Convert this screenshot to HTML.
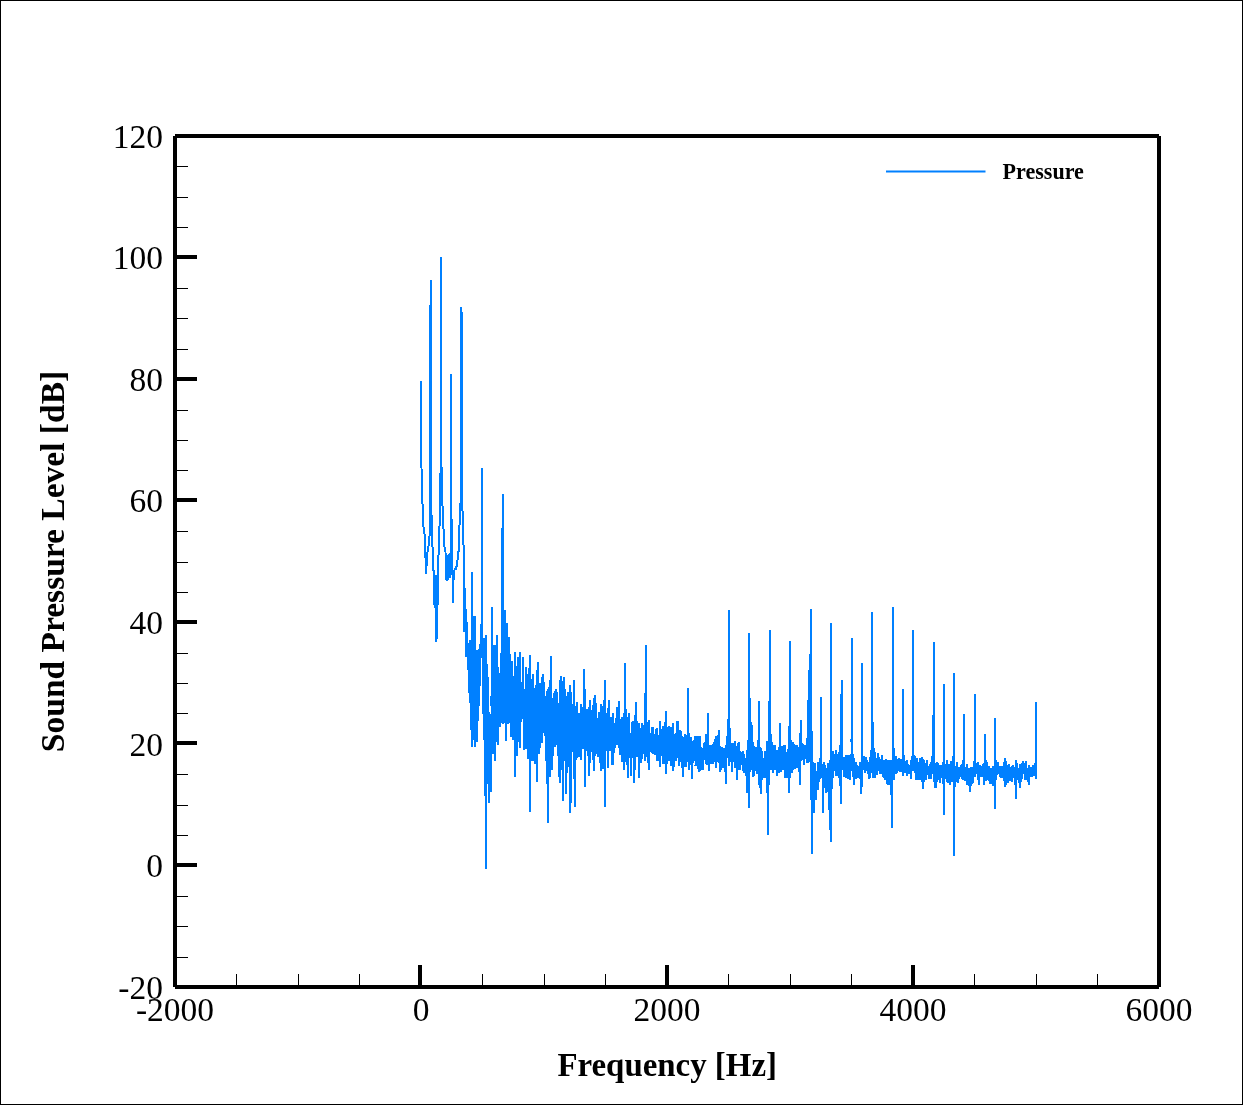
<!DOCTYPE html>
<html><head><meta charset="utf-8"><title>Sound Pressure Level</title>
<style>html,body{margin:0;padding:0;background:#fff;overflow:hidden}body{width:1243px;height:1105px;position:relative}</style>
</head><body>
<svg width="1243" height="1105" viewBox="0 0 1243 1105" style="position:absolute;left:0;top:0">
<rect x="0" y="0" width="1243" height="1105" fill="#fff"/>
<polygon points="520.0,685.4 521.0,693.3 522.0,690.0 523.0,685.6 524.0,703.4 525.0,704.3 526.0,695.8 527.0,700.1 528.0,700.2 529.0,699.2 530.0,706.7 531.0,701.6 532.0,705.1 533.0,702.6 534.0,701.5 535.0,700.3 536.0,699.6 537.0,701.7 538.0,695.0 539.0,694.6 540.0,694.6 541.0,694.9 542.0,695.1 543.0,695.7 544.0,697.6 545.0,701.9 546.0,709.6 547.0,717.0 548.0,725.0 549.0,715.1 550.0,712.5 551.0,706.8 552.0,711.7 553.0,710.8 554.0,709.9 555.0,709.1 556.0,708.3 557.0,707.4 558.0,706.6 559.0,710.8 560.0,706.8 561.0,706.2 562.0,707.2 563.0,707.7 564.0,708.3 565.0,713.2 566.0,718.1 567.0,718.7 568.0,716.6 569.0,714.5 570.0,712.8 571.0,712.0 572.0,711.1 573.0,710.1 574.0,709.1 575.0,719.7 576.0,716.7 577.0,719.9 578.0,720.8 579.0,720.7 580.0,721.5 581.0,722.3 582.0,721.0 583.0,719.2 584.0,709.1 585.0,726.5 586.0,722.5 587.0,725.4 588.0,725.6 589.0,722.9 590.0,720.4 591.0,719.4 592.0,718.4 593.0,717.3 594.0,718.7 595.0,715.8 596.0,718.3 597.0,721.1 598.0,724.5 599.0,728.1 600.0,727.3 601.0,726.4 602.0,725.4 603.0,724.1 604.0,722.8 605.0,722.3 606.0,722.4 607.0,722.3 608.0,722.2 609.0,723.1 610.0,724.9 611.0,726.7 612.0,728.5 613.0,729.8 614.0,726.7 615.0,723.5 616.0,720.3 617.0,717.9 618.0,717.4 619.0,718.4 620.0,722.8 621.0,727.6 622.0,730.5 623.0,728.1 624.0,725.3 625.0,698.1 626.0,723.4 627.0,725.1 628.0,727.6 629.0,731.1 630.0,734.7 631.0,737.5 632.0,738.9 633.0,737.2 634.0,735.1 635.0,733.2 636.0,729.2 637.0,731.6 638.0,736.9 639.0,740.3 640.0,736.7 641.0,736.1 642.0,735.7 643.0,734.2 644.0,732.2 645.0,730.2 646.0,707.7 647.0,733.2 648.0,735.1 649.0,736.2 650.0,736.0 651.0,735.8 652.0,735.7 653.0,736.0 654.0,736.4 655.0,736.9 656.0,737.7 657.0,737.9 658.0,737.2 659.0,736.7 660.0,736.2 661.0,737.0 662.0,737.7 663.0,738.5 664.0,738.6 665.0,738.4 666.0,737.3 667.0,738.7 668.0,738.0 669.0,737.5 670.0,737.8 671.0,738.1 672.0,738.2 673.0,738.4 674.0,737.3 675.0,735.6 676.0,734.6 677.0,734.8 678.0,736.1 679.0,738.3 680.0,740.4 681.0,742.4 682.0,743.5 683.0,745.5 684.0,744.5 685.0,745.0 686.0,743.4 687.0,742.2 688.0,714.8 689.0,744.4 690.0,747.4 691.0,749.9 692.0,747.8 693.0,746.7 694.0,746.4 695.0,746.1 696.0,746.2 697.0,746.7 698.0,747.2 699.0,747.7 700.0,747.8 701.0,748.5 702.0,749.7 703.0,750.8 704.0,751.5 705.0,748.0 706.0,744.0 707.0,743.0 708.0,734.7 709.0,747.4 710.0,750.5 711.0,752.3 712.0,750.8 713.0,749.6 714.0,749.0 715.0,748.4 716.0,747.3 717.0,745.8 718.0,744.4 719.0,744.4 720.0,748.1 721.0,751.2 722.0,754.1 723.0,754.0 724.0,754.5 725.0,755.1 726.0,753.9 727.0,746.1 728.0,738.4 729.0,679.8 730.0,740.2 731.0,748.0 732.0,752.7 733.0,751.7 734.0,750.6 735.0,750.0 736.0,750.2 737.0,751.4 738.0,750.8 739.0,750.9 740.0,752.3 741.0,754.2 742.0,756.1 743.0,758.0 744.0,758.3 745.0,760.6 746.0,763.0 747.0,764.2 748.0,761.1 749.0,700.9 750.0,723.0 751.0,732.4 752.0,745.1 753.0,753.1 754.0,754.2 755.0,754.4 756.0,754.5 757.0,754.5 758.0,754.3 759.0,735.7 760.0,758.6 761.0,763.1 762.0,760.5 763.0,760.1 764.0,759.9 765.0,759.9 766.0,754.5 767.0,750.1 768.0,756.8 769.0,737.2 770.0,709.5 771.0,744.9 772.0,751.8 773.0,752.9 774.0,753.8 775.0,754.7 776.0,754.5 777.0,754.3 778.0,753.6 779.0,752.8 780.0,742.7 781.0,752.2 782.0,753.1 783.0,754.0 784.0,755.0 785.0,755.9 786.0,755.3 787.0,754.7 788.0,754.0 789.0,753.4 790.0,722.8 791.0,741.2 792.0,748.2 793.0,751.5 794.0,751.7 795.0,752.0 796.0,752.3 797.0,752.6 798.0,752.1 799.0,751.6 800.0,753.8 801.0,750.9 802.0,751.0 803.0,751.0 804.0,751.1 805.0,751.4 806.0,749.3 807.0,747.1 808.0,729.5 809.0,708.1 810.0,683.6 811.0,665.8 812.0,768.7 813.0,780.2 814.0,778.8 815.0,777.2 816.0,775.0 817.0,773.1 818.0,771.2 819.0,768.9 820.0,766.5 821.0,734.4 822.0,766.2 823.0,772.6 824.0,771.5 825.0,772.0 826.0,772.4 827.0,773.9 828.0,776.3 829.0,777.7 830.0,781.2 831.0,730.9 832.0,760.4 833.0,760.6 834.0,759.9 835.0,759.2 836.0,758.6 837.0,759.2 838.0,759.8 839.0,760.4 840.0,752.3 841.0,736.8 842.0,747.9 843.0,760.1 844.0,760.5 845.0,761.6 846.0,762.6 847.0,762.8 848.0,762.9 849.0,763.1 850.0,763.2 851.0,757.8 852.0,704.3 853.0,762.6 854.0,765.1 855.0,766.7 856.0,768.2 857.0,767.6 858.0,767.4 859.0,768.1 860.0,768.8 861.0,764.5 862.0,701.5 863.0,761.0 864.0,761.2 865.0,761.4 866.0,762.5 867.0,763.1 868.0,763.6 869.0,764.2 870.0,764.2 871.0,759.4 872.0,689.2 873.0,745.6 874.0,755.6 875.0,760.6 876.0,760.6 877.0,760.6 878.0,760.5 879.0,760.6 880.0,760.7 881.0,761.1 882.0,761.8 883.0,762.9 884.0,763.9 885.0,765.3 886.0,766.7 887.0,767.5 888.0,767.8 889.0,768.1 890.0,769.3 891.0,768.4 892.0,775.3 893.0,715.9 894.0,760.3 895.0,760.7 896.0,762.0 897.0,762.5 898.0,763.1 899.0,763.6 900.0,763.2 901.0,762.7 902.0,762.3 903.0,728.9 904.0,762.6 905.0,763.7 906.0,764.8 907.0,765.8 908.0,765.9 909.0,766.1 910.0,766.2 911.0,766.3 912.0,763.0 913.0,679.2 914.0,761.8 915.0,763.0 916.0,764.1 917.0,765.3 918.0,765.1 919.0,765.0 920.0,764.9 921.0,765.1 922.0,765.2 923.0,767.6 924.0,766.0 925.0,766.1 926.0,766.3 927.0,766.5 928.0,766.8 929.0,767.1 930.0,767.4 931.0,767.6 932.0,763.4 933.0,759.2 934.0,724.9 935.0,764.8 936.0,767.2 937.0,768.6 938.0,769.4 939.0,770.1 940.0,770.8 941.0,770.5 942.0,770.1 943.0,769.8 944.0,737.4 945.0,768.1 946.0,767.9 947.0,767.6 948.0,767.8 949.0,768.3 950.0,768.8 951.0,769.4 952.0,768.3 953.0,767.2 954.0,733.2 955.0,768.3 956.0,768.9 957.0,769.5 958.0,769.2 959.0,769.5 960.0,769.8 961.0,770.0 962.0,769.6 963.0,767.6 964.0,744.0 965.0,768.3 966.0,769.7 967.0,771.1 968.0,771.7 969.0,772.6 970.0,774.3 971.0,773.2 972.0,771.8 973.0,770.4 974.0,768.4 975.0,732.5 976.0,766.7 977.0,767.9 978.0,769.2 979.0,770.6 980.0,770.4 981.0,769.2 982.0,768.7 983.0,769.6 984.0,769.1 985.0,750.2 986.0,766.7 987.0,767.9 988.0,769.6 989.0,771.3 990.0,771.7 991.0,772.0 992.0,772.2 993.0,771.7 994.0,770.5 995.0,748.1 996.0,761.7 997.0,763.1 998.0,766.2 999.0,767.3 1000.0,768.4 1001.0,769.4 1002.0,769.9 1003.0,768.8 1004.0,768.6 1005.0,767.5 1006.0,769.9 1007.0,770.0 1008.0,770.0 1009.0,770.2 1010.0,770.3 1011.0,770.3 1012.0,770.1 1013.0,769.6 1014.0,768.5 1015.0,768.7 1016.0,771.6 1017.0,769.0 1018.0,769.2 1019.0,770.1 1020.0,771.5 1021.0,769.0 1022.0,767.8 1023.0,767.0 1024.0,767.1 1025.0,767.2 1026.0,767.3 1027.0,768.6 1028.0,770.1 1029.0,771.6 1030.0,770.9 1031.0,770.1 1032.0,769.3 1033.0,769.2 1034.0,768.5 1035.0,767.8 1036.0,735.4 1036.0,754.1 1035.0,771.7 1034.0,772.0 1033.0,772.5 1032.0,772.6 1031.0,774.1 1030.0,775.7 1029.0,777.2 1028.0,775.6 1027.0,774.1 1026.0,772.9 1025.0,772.7 1024.0,772.5 1023.0,772.3 1022.0,773.0 1021.0,774.5 1020.0,778.4 1019.0,775.7 1018.0,774.3 1017.0,774.3 1016.0,781.6 1015.0,774.9 1014.0,773.2 1013.0,773.6 1012.0,774.8 1011.0,775.4 1010.0,775.5 1009.0,775.7 1008.0,775.8 1007.0,776.3 1006.0,776.7 1005.0,775.4 1004.0,774.5 1003.0,773.0 1002.0,773.4 1001.0,773.2 1000.0,772.3 999.0,771.1 998.0,769.9 997.0,768.5 996.0,770.2 995.0,774.3 994.0,778.1 993.0,777.7 992.0,777.7 991.0,777.3 990.0,776.7 989.0,775.9 988.0,774.5 987.0,773.1 986.0,773.1 985.0,764.4 984.0,775.8 983.0,774.5 982.0,772.5 981.0,773.2 980.0,775.2 979.0,776.6 978.0,775.0 977.0,773.5 976.0,772.0 975.0,751.8 974.0,773.4 973.0,775.9 972.0,777.3 971.0,778.6 970.0,781.3 969.0,778.9 968.0,777.8 967.0,777.3 966.0,776.1 965.0,774.7 964.0,760.3 963.0,773.1 962.0,774.4 961.0,774.8 960.0,774.9 959.0,775.0 958.0,775.0 957.0,776.0 956.0,776.6 955.0,777.1 954.0,786.1 953.0,776.7 952.0,776.7 951.0,776.8 950.0,775.8 949.0,775.1 948.0,774.4 947.0,774.4 946.0,774.8 945.0,775.2 944.0,767.8 943.0,776.2 942.0,776.1 941.0,776.0 940.0,776.0 939.0,775.5 938.0,775.0 937.0,774.5 936.0,774.8 935.0,773.5 934.0,749.4 933.0,768.5 932.0,770.5 931.0,772.6 930.0,772.5 929.0,772.4 928.0,772.4 927.0,772.3 926.0,772.3 925.0,772.6 924.0,772.9 923.0,776.4 922.0,772.5 921.0,772.0 920.0,771.5 919.0,771.5 918.0,771.6 917.0,771.6 916.0,771.0 915.0,770.3 914.0,769.5 913.0,722.6 912.0,770.0 911.0,771.8 910.0,771.6 909.0,771.4 908.0,771.2 907.0,771.0 906.0,770.2 905.0,769.4 904.0,768.7 903.0,749.4 902.0,768.2 901.0,768.3 900.0,768.5 899.0,768.6 898.0,768.1 897.0,767.7 896.0,767.2 895.0,767.8 894.0,770.0 893.0,748.7 892.0,795.0 891.0,778.9 890.0,777.4 889.0,775.5 888.0,775.1 887.0,774.7 886.0,773.4 885.0,771.7 884.0,770.0 883.0,768.9 882.0,767.8 881.0,766.9 880.0,766.6 879.0,766.9 878.0,767.1 877.0,767.5 876.0,767.8 875.0,768.0 874.0,765.3 873.0,759.7 872.0,727.8 871.0,767.7 870.0,770.5 869.0,770.5 868.0,769.5 867.0,768.4 866.0,767.4 865.0,766.5 864.0,767.4 863.0,768.2 862.0,735.4 861.0,773.3 860.0,774.8 859.0,773.5 858.0,772.1 857.0,772.5 856.0,773.7 855.0,773.6 854.0,773.6 853.0,771.8 852.0,738.1 851.0,768.0 850.0,770.5 849.0,770.2 848.0,769.9 847.0,769.6 846.0,769.3 845.0,768.5 844.0,767.7 843.0,767.9 842.0,761.5 841.0,765.9 840.0,766.6 839.0,768.0 838.0,767.4 837.0,766.8 836.0,766.1 835.0,766.8 834.0,767.5 833.0,768.1 832.0,773.6 831.0,774.3 830.0,799.5 829.0,791.7 828.0,787.9 827.0,783.6 826.0,781.1 825.0,780.5 824.0,779.9 823.0,782.6 822.0,771.3 821.0,753.5 820.0,771.9 819.0,775.6 818.0,779.4 817.0,782.6 816.0,785.8 815.0,789.6 814.0,793.1 813.0,796.0 812.0,801.9 811.0,715.6 810.0,717.6 809.0,731.7 808.0,744.0 807.0,754.2 806.0,755.6 805.0,757.1 804.0,757.1 803.0,757.7 802.0,758.2 801.0,758.8 800.0,765.7 799.0,760.1 798.0,759.7 797.0,759.3 796.0,759.3 795.0,759.4 794.0,759.4 793.0,759.5 792.0,758.7 791.0,755.9 790.0,746.6 789.0,764.9 788.0,765.0 787.0,765.2 786.0,765.3 785.0,765.5 784.0,764.3 783.0,763.1 782.0,761.9 781.0,760.8 780.0,755.8 779.0,762.0 778.0,762.8 777.0,763.7 776.0,763.5 775.0,763.3 774.0,762.4 773.0,761.6 772.0,760.5 771.0,756.0 770.0,737.8 769.0,757.9 768.0,786.8 767.0,766.1 766.0,766.3 765.0,768.5 764.0,767.7 763.0,768.2 762.0,768.8 761.0,776.6 760.0,771.1 759.0,757.2 758.0,765.5 757.0,763.0 756.0,761.5 755.0,762.5 754.0,763.4 753.0,762.5 752.0,756.5 751.0,749.3 750.0,745.0 749.0,746.2 748.0,776.8 747.0,777.0 746.0,773.5 745.0,769.1 744.0,764.6 743.0,764.2 742.0,762.7 741.0,761.3 740.0,760.0 739.0,759.2 738.0,759.1 737.0,760.5 736.0,758.4 735.0,758.0 734.0,758.5 733.0,759.8 732.0,761.1 731.0,757.6 730.0,752.4 729.0,717.3 728.0,750.8 727.0,755.8 726.0,760.8 725.0,762.3 724.0,761.1 723.0,760.1 722.0,760.8 721.0,759.7 720.0,758.4 719.0,755.8 718.0,755.3 717.0,755.7 716.0,756.1 715.0,756.3 714.0,756.3 713.0,756.2 712.0,757.1 711.0,758.7 710.0,758.5 709.0,757.4 708.0,749.6 707.0,753.3 706.0,752.8 705.0,755.9 704.0,758.8 703.0,759.1 702.0,758.7 701.0,758.3 700.0,758.1 699.0,758.0 698.0,757.0 697.0,756.1 696.0,755.1 695.0,754.8 694.0,755.2 693.0,755.7 692.0,757.7 691.0,761.4 690.0,758.6 689.0,755.6 688.0,738.3 687.0,753.4 686.0,753.6 685.0,754.7 684.0,754.6 683.0,757.1 682.0,754.0 681.0,753.1 680.0,751.6 679.0,750.0 678.0,748.2 677.0,746.8 676.0,746.1 675.0,747.6 674.0,750.7 673.0,752.4 672.0,751.4 671.0,750.4 670.0,749.0 669.0,747.6 668.0,749.7 667.0,752.2 666.0,753.2 665.0,752.4 664.0,750.9 663.0,749.8 662.0,749.7 661.0,749.6 660.0,749.5 659.0,748.7 658.0,747.9 657.0,747.3 656.0,746.3 655.0,745.0 654.0,744.2 653.0,743.7 652.0,743.2 651.0,745.1 650.0,747.5 649.0,749.9 648.0,749.5 647.0,747.2 646.0,731.5 645.0,743.4 644.0,744.7 643.0,746.1 642.0,747.2 641.0,747.8 640.0,748.6 639.0,755.1 638.0,750.1 637.0,742.8 636.0,743.9 635.0,748.7 634.0,750.2 633.0,752.2 632.0,753.9 631.0,753.9 630.0,751.5 629.0,747.9 628.0,744.2 627.0,742.5 626.0,742.2 625.0,728.4 624.0,744.5 623.0,744.6 622.0,744.0 621.0,740.4 620.0,736.1 619.0,732.4 618.0,730.7 617.0,729.9 616.0,732.5 615.0,736.6 614.0,740.7 613.0,744.8 612.0,744.5 611.0,743.7 610.0,742.9 609.0,742.0 608.0,741.8 607.0,741.9 606.0,742.1 605.0,746.3 604.0,742.5 603.0,743.7 602.0,744.8 601.0,745.1 600.0,744.0 599.0,742.9 598.0,739.2 597.0,736.7 596.0,735.2 595.0,734.0 594.0,738.5 593.0,735.1 592.0,736.2 591.0,737.3 590.0,738.4 589.0,739.9 588.0,741.7 587.0,742.0 586.0,740.7 585.0,752.5 584.0,732.9 583.0,738.0 582.0,738.4 581.0,738.5 580.0,737.6 579.0,736.6 578.0,737.3 577.0,738.2 576.0,737.8 575.0,749.0 574.0,734.7 573.0,735.5 572.0,736.3 571.0,737.1 570.0,737.5 569.0,738.2 568.0,739.2 567.0,740.1 566.0,739.7 565.0,737.2 564.0,734.7 563.0,734.7 562.0,734.2 561.0,732.6 560.0,732.0 559.0,737.4 558.0,727.6 557.0,727.0 556.0,726.5 555.0,726.0 554.0,728.0 553.0,732.4 552.0,736.9 551.0,735.5 550.0,740.1 549.0,742.1 548.0,757.7 547.0,739.8 546.0,729.7 545.0,719.0 544.0,714.8 543.0,715.0 542.0,716.0 541.0,717.6 540.0,719.1 539.0,721.2 538.0,723.9 537.0,734.6 536.0,728.6 535.0,727.8 534.0,727.9 533.0,728.0 532.0,729.6 531.0,728.5 530.0,752.2 529.0,726.5 528.0,725.4 527.0,724.4 526.0,721.1 525.0,725.0 524.0,723.6 523.0,708.8 522.0,706.6 521.0,708.2 520.0,709.9" fill="#0080ff" shape-rendering="crispEdges"/><polyline points="421.1,381.0 421.2,450.0 421.5,468.0 422.5,504.0 423.5,527.0 424.5,534.0 425.3,545.0 425.4,553.0 425.7,566.0 426.0,553.0 426.1,574.0 426.5,553.0 427.0,566.0 427.5,552.0 428.0,550.0 429.0,543.0 429.9,530.0 430.1,438.0 430.6,280.0 431.0,494.0 431.9,530.0 432.6,550.0 433.4,570.0 434.0,573.0 434.2,605.0 434.6,575.0 435.0,608.0 435.4,575.0 435.8,608.0 436.2,578.0 436.5,641.5 436.9,600.0 437.2,575.0 437.5,608.0 437.8,573.0 438.0,600.0 438.3,561.0 438.9,545.0 439.8,518.0 440.4,480.0 440.7,462.0 441.0,257.0 441.4,462.0 441.8,480.0 442.5,506.0 443.2,518.0 444.0,545.0 445.5,552.0 446.0,580.0 446.6,556.0 447.2,581.0 447.8,555.0 448.4,580.0 449.0,554.0 449.6,578.0 450.2,556.0 450.5,560.0 450.9,374.0 451.5,517.0 452.0,560.0 452.5,575.0 453.0,602.7 453.5,572.0 454.0,580.0 454.6,568.0 455.5,570.0 457.0,565.0 458.8,549.0 459.0,531.0 460.0,519.0 460.5,506.0 461.3,307.0 462.0,325.0 462.3,506.0 462.9,519.0 463.5,545.0 464.2,560.0 464.4,632.0 464.8,600.0 465.2,588.0 465.4,601.6 465.5,632.0 465.8,633.3 466.0,657.0 466.3,614.7 466.4,609.0 466.7,643.2 467.2,629.0 467.3,624.0 467.6,650.5 467.7,658.0 468.1,647.4 468.2,669.0 468.3,643.0 468.5,670.0 469.0,660.1 469.0,688.0 469.4,686.1 469.7,703.0 469.9,670.6 469.9,655.0 470.3,640.0 470.3,692.0 470.8,643.7 470.8,730.0 471.2,724.1 471.7,627.4 471.9,572.0 472.0,746.8 472.1,699.7 472.3,610.0 472.6,631.8 473.0,738.9 473.5,635.2 473.7,740.0 473.9,707.8 474.4,616.3 474.8,702.1 474.9,616.0 475.0,746.8 475.3,666.5 475.3,661.0 475.7,719.4 476.2,680.5 476.6,712.8 477.0,650.0 477.0,741.6 477.1,672.8 477.5,723.6 478.0,670.1 478.4,701.6 478.9,657.8 478.9,706.0 479.0,649.0 479.3,685.2 479.4,700.0 479.6,677.0 479.8,643.9 480.2,661.0 480.7,638.5 481.1,657.6 481.6,617.5 481.6,608.0 482.0,468.0 482.0,629.1 482.4,622.0 482.5,636.4 482.9,667.0 483.3,677.0 483.4,643.1 483.5,714.0 483.8,703.0 484.0,740.0 484.3,644.8 484.7,734.7 484.8,638.0 485.2,669.6 485.3,760.0 485.6,811.5 485.7,869.0 486.0,635.0 486.1,675.3 486.5,787.8 487.0,668.1 487.0,760.0 487.4,664.0 487.4,750.0 487.4,726.3 487.9,677.4 488.2,684.0 488.3,754.7 488.4,706.0 488.8,726.3 489.0,802.7 489.2,789.6 489.7,732.4 490.1,775.1 490.6,732.0 490.9,791.5 491.0,774.9 491.5,713.6 491.5,706.0 491.6,640.0 491.9,736.7 492.0,607.0 492.4,646.8 492.4,640.0 492.6,753.7 492.8,722.1 493.3,657.2 493.7,735.9 494.2,664.4 494.5,645.0 494.6,732.8 494.7,761.4 495.1,650.8 495.5,747.0 496.0,660.8 496.4,739.0 496.4,722.5 496.9,666.5 496.9,635.0 497.3,728.7 497.8,666.9 497.8,745.4 498.2,741.2 498.7,676.4 498.8,673.0 499.1,714.6 499.6,679.8 499.9,727.0 500.0,715.9 500.5,676.2 500.7,653.0 500.9,705.3 501.4,655.3 501.8,686.5 501.9,722.7 502.2,600.0 502.3,617.9 502.6,494.0 502.7,700.6 503.0,590.0 503.2,629.9 503.3,723.6 503.6,686.5 504.1,630.4 504.5,723.3 505.0,646.1 505.1,610.0 505.4,707.0 505.9,638.6 505.9,740.8 506.3,730.0 506.8,630.8 507.0,623.0 507.2,723.9 507.4,651.0 507.7,668.7 508.1,723.6 508.1,703.3 508.6,660.6 508.9,637.0 509.0,722.7 509.3,646.0 509.5,650.6 509.9,707.4 510.4,682.7 510.8,715.7 510.9,736.5 511.3,692.5 511.5,679.0 511.7,721.4 511.9,661.0 512.2,673.4 512.6,714.9 513.1,681.8 513.3,740.0 513.5,719.8 514.0,675.8 514.4,729.3 514.6,652.0 514.6,750.0 514.9,654.6 515.0,776.6 515.3,739.4 515.4,752.0 515.8,671.8 516.2,735.4 516.7,666.4 517.1,756.0 517.1,720.9 517.6,656.8 518.0,741.6 518.5,657.8 518.9,739.7 519.4,674.4 519.6,747.6 519.7,652.0 519.8,720.7 520.3,685.0 520.7,720.8 521.2,693.4 521.3,682.0 521.4,722.0 521.6,708.5 522.1,686.0 522.5,711.3 522.9,657.0 523.0,678.9 523.4,718.7 523.9,699.5 524.0,750.0 524.3,730.4 524.4,689.0 524.8,703.4 525.2,732.1 525.7,695.8 526.0,667.0 526.1,748.8 526.6,684.1 527.0,729.3 527.3,674.0 527.5,695.7 527.9,734.3 528.2,758.8 528.4,691.7 528.8,731.1 529.3,673.7 529.6,666.0 529.6,765.0 529.7,782.1 530.0,655.0 530.0,811.8 530.2,685.7 530.4,765.0 530.6,741.3 531.1,699.3 531.5,679.0 531.5,734.9 532.0,698.0 532.4,735.2 532.5,760.6 532.9,680.8 533.0,673.7 533.3,733.1 533.8,698.9 534.2,760.5 534.7,687.7 535.1,764.0 535.1,733.2 535.6,685.9 536.0,732.8 536.5,685.2 536.5,768.0 536.9,781.5 536.9,778.2 537.3,766.0 537.4,669.8 537.8,747.8 538.0,662.0 538.3,688.5 538.7,732.0 539.2,690.3 539.4,753.7 539.6,742.7 540.1,682.9 540.5,740.0 541.0,688.5 541.4,722.2 541.9,677.3 542.0,743.3 542.3,741.7 542.8,677.8 543.0,673.7 543.2,733.2 543.7,681.8 544.1,729.4 544.6,695.6 544.6,735.6 545.0,729.0 545.5,700.1 545.9,732.0 546.3,760.5 546.4,710.4 546.8,744.9 547.0,691.0 547.3,712.2 547.4,775.0 547.7,797.9 547.8,823.4 548.2,688.9 548.2,778.0 548.6,755.0 549.1,686.8 549.5,776.5 549.8,777.0 550.0,683.0 550.3,680.0 550.4,746.7 550.7,656.4 550.9,697.0 551.1,680.0 551.3,743.9 551.8,706.8 552.0,770.0 552.2,741.4 552.7,697.6 553.1,755.6 553.6,693.0 554.0,736.7 554.5,699.3 554.5,691.0 554.5,747.0 554.9,742.1 555.4,706.6 555.8,739.8 556.3,689.5 556.7,744.8 557.2,692.2 557.6,737.6 558.0,755.0 558.1,703.4 558.5,755.6 559.0,703.3 559.4,769.9 559.6,782.7 559.9,679.6 560.0,765.0 560.3,742.5 560.8,697.1 560.9,676.0 561.2,765.2 561.7,687.6 562.1,740.0 562.2,770.0 562.6,712.7 562.6,801.0 563.0,770.0 563.0,739.9 563.5,681.4 563.9,677.5 563.9,760.3 564.4,706.4 564.8,761.3 565.3,688.9 565.7,755.4 566.0,768.0 566.2,716.0 566.4,696.5 566.4,794.0 566.6,760.5 566.8,768.0 567.1,715.4 567.5,742.7 568.0,692.0 568.4,755.5 568.9,703.5 569.3,766.6 569.7,685.0 569.8,703.7 570.1,770.0 570.2,779.2 570.5,812.7 570.7,692.3 570.9,770.0 571.1,742.9 571.6,706.0 572.0,743.9 572.5,705.3 572.9,751.7 573.4,704.0 573.8,745.8 574.0,680.0 574.3,706.8 574.4,768.0 574.7,796.4 574.8,806.8 575.2,707.2 575.2,768.0 575.6,748.1 576.1,705.8 576.5,760.2 577.0,713.3 577.4,701.6 577.4,758.1 577.9,713.4 578.3,745.8 578.6,757.0 578.8,713.1 579.2,739.1 579.7,715.2 580.1,741.2 580.6,720.3 581.0,754.1 581.2,704.0 581.2,760.0 581.5,719.2 581.9,746.9 582.4,707.3 582.8,749.2 583.3,713.3 583.7,748.6 583.8,695.0 584.2,686.5 584.2,669.0 584.6,695.0 584.6,765.0 584.6,759.8 585.0,786.5 585.1,721.8 585.4,765.0 585.5,751.5 586.0,718.6 586.4,746.3 586.9,712.0 587.3,751.0 587.5,709.0 587.8,717.9 588.2,755.9 588.7,707.0 589.1,762.0 589.1,748.8 589.5,776.4 589.6,713.1 589.9,762.0 590.0,700.0 590.0,747.9 590.5,711.7 590.9,751.5 591.4,711.9 591.8,746.5 592.3,710.5 592.7,756.8 593.2,704.9 593.4,758.0 593.6,761.6 593.8,771.0 594.1,697.8 594.2,758.0 594.5,739.1 595.0,706.5 595.1,695.0 595.4,755.8 595.9,702.8 596.3,738.8 596.8,718.3 597.2,744.1 597.6,757.0 597.7,721.5 598.1,743.6 598.6,725.2 598.9,711.7 599.0,754.1 599.5,715.1 599.9,762.6 600.4,724.2 600.8,760.1 601.3,714.0 601.4,704.0 601.4,771.0 601.7,748.8 602.2,706.5 602.6,768.5 603.1,720.1 603.5,767.1 604.0,716.1 604.3,700.0 604.3,768.0 604.4,761.6 604.7,680.0 604.7,806.8 604.9,690.5 605.1,700.0 605.1,768.0 605.3,762.1 605.8,719.3 606.2,750.7 606.7,713.3 607.1,748.7 607.6,718.8 607.8,767.5 608.0,748.1 608.5,708.2 608.5,700.0 608.9,744.7 609.4,714.4 609.8,751.0 610.3,723.6 610.7,749.3 611.2,717.2 611.6,753.0 612.1,726.9 612.5,764.7 612.9,713.0 612.9,765.0 613.0,717.7 613.4,761.3 613.9,725.1 614.3,743.1 614.8,722.7 615.2,747.5 615.7,718.4 616.1,734.1 616.6,714.2 616.7,744.7 617.0,743.7 617.5,706.9 617.9,734.3 618.4,715.1 618.7,700.8 618.8,748.3 619.3,712.5 619.7,746.0 620.2,722.1 620.5,754.8 620.6,740.6 621.1,719.5 621.5,748.6 621.7,716.8 622.0,728.8 622.4,762.1 622.9,718.5 623.3,761.8 623.8,723.9 623.8,770.0 624.2,764.3 624.6,700.0 624.7,713.9 625.0,663.5 625.1,761.5 625.4,700.0 625.6,715.0 626.0,748.6 626.5,715.1 626.9,763.0 627.2,765.0 627.4,723.8 627.6,778.0 627.8,750.1 628.0,766.0 628.3,720.7 628.7,751.2 629.2,729.5 629.3,713.0 629.6,753.6 630.1,733.1 630.5,757.5 630.6,776.0 631.0,733.2 631.4,758.9 631.9,727.5 631.9,722.0 632.3,757.8 632.8,731.0 632.8,720.7 633.2,754.9 633.7,731.4 634.0,770.0 634.1,755.4 634.4,783.0 634.6,732.6 634.8,770.0 635.0,750.6 635.3,715.0 635.5,715.3 635.7,702.0 635.9,752.5 636.1,716.0 636.4,729.2 636.8,748.9 637.1,757.0 637.3,721.0 637.7,750.2 638.2,726.4 638.5,723.5 638.6,761.9 638.9,777.7 639.1,733.1 639.3,765.0 639.5,761.2 640.0,732.7 640.4,754.5 640.9,728.4 641.3,762.2 641.4,762.5 641.8,732.5 642.2,758.7 642.3,722.6 642.7,726.7 643.1,754.4 643.6,728.7 644.0,749.1 644.5,729.7 644.9,745.9 645.2,760.6 645.4,727.9 645.4,714.0 645.8,645.0 645.8,748.3 646.2,716.0 646.3,728.8 646.7,749.5 647.2,731.8 647.6,763.3 648.1,721.9 648.5,761.8 648.6,719.7 648.6,770.0 649.0,732.9 649.4,752.1 649.9,733.1 650.3,751.7 650.8,734.3 651.2,748.5 651.7,733.9 651.8,727.0 651.8,753.0 652.1,752.7 652.6,727.5 653.0,748.3 653.5,734.6 653.9,754.0 654.4,734.5 654.7,755.0 654.8,747.7 655.3,736.3 655.7,749.3 656.2,734.2 656.6,728.0 656.6,751.9 657.1,736.1 657.5,760.6 657.5,752.9 658.0,736.1 658.4,751.4 658.9,735.3 659.3,754.1 659.8,734.9 660.0,721.0 660.0,767.0 660.2,751.4 660.7,733.4 661.1,752.8 661.6,730.8 662.0,756.4 662.5,729.3 662.9,758.1 663.2,726.0 663.2,764.4 663.4,730.5 663.8,764.0 664.3,734.3 664.7,756.5 665.2,722.5 665.3,722.0 665.6,753.3 665.7,711.0 666.1,728.3 666.1,722.0 666.1,774.4 666.5,763.7 667.0,737.2 667.4,764.0 667.9,726.6 668.3,756.5 668.8,730.0 668.9,726.0 668.9,760.6 669.2,758.1 669.7,736.1 670.1,755.5 670.6,732.7 670.8,766.0 671.0,762.9 671.5,727.5 671.9,764.4 672.4,730.9 672.7,722.6 672.8,767.7 673.3,729.1 673.3,771.4 673.7,762.2 674.2,734.3 674.6,750.5 675.1,733.7 675.5,750.1 675.6,760.6 676.0,733.1 676.4,758.4 676.9,728.7 677.3,755.6 677.5,721.0 677.8,728.4 678.2,757.9 678.7,732.5 679.1,751.9 679.4,766.0 679.6,730.1 680.0,761.5 680.5,736.5 680.9,759.1 681.3,731.0 681.4,736.4 681.8,755.5 682.3,736.0 682.4,768.0 682.7,762.5 682.8,776.7 683.2,743.0 683.2,768.0 683.6,757.4 684.1,737.3 684.5,756.9 685.0,737.8 685.1,734.0 685.4,766.8 685.9,739.2 686.0,767.0 686.3,757.7 686.8,737.8 687.2,762.2 687.6,728.0 687.7,723.3 688.0,688.0 688.1,757.2 688.4,730.0 688.6,736.5 688.9,770.0 689.0,757.5 689.5,744.2 689.9,761.5 690.4,740.1 690.8,736.8 690.8,764.6 691.3,744.0 691.7,778.6 691.7,763.5 692.1,768.0 692.2,745.9 692.6,758.4 693.1,740.8 693.5,762.5 694.0,740.5 694.4,757.7 694.9,742.0 695.3,758.9 695.5,736.0 695.5,766.0 695.8,742.4 696.2,756.9 696.7,737.6 697.1,758.4 697.6,736.3 698.0,768.9 698.5,746.4 698.9,762.9 699.3,772.0 699.4,738.9 699.8,771.1 700.3,743.7 700.3,736.0 700.7,761.0 701.2,746.9 701.6,769.8 702.1,748.1 702.5,764.4 703.0,749.6 703.1,770.0 703.4,763.4 703.9,743.7 704.1,743.5 704.3,759.3 704.8,742.2 705.2,759.5 705.7,737.0 706.0,734.0 706.0,764.4 706.1,760.2 706.6,741.5 707.0,765.0 707.5,737.8 707.5,730.0 707.9,713.0 707.9,750.8 708.3,732.0 708.4,743.8 708.8,771.0 708.8,762.6 709.3,744.6 709.7,760.9 710.2,750.1 710.6,761.5 710.7,745.4 711.1,750.4 711.5,764.4 712.0,750.1 712.4,761.9 712.6,764.4 712.9,744.0 713.3,757.4 713.8,741.9 714.2,762.3 714.7,741.0 715.1,758.7 715.5,738.7 715.6,745.3 716.0,759.6 716.4,768.0 716.5,736.0 716.9,762.0 717.4,742.1 717.8,760.1 718.3,741.3 718.7,730.0 718.7,756.9 719.2,743.7 719.6,768.3 720.1,746.1 720.2,772.0 720.5,770.4 721.0,749.4 721.4,762.3 721.9,750.7 722.1,747.0 722.3,762.1 722.8,752.1 723.1,768.0 723.2,767.8 723.7,748.2 724.1,767.8 724.6,750.7 725.0,770.6 725.2,772.0 725.5,748.0 725.6,784.3 725.9,747.0 725.9,766.5 726.0,770.0 726.4,745.0 726.8,758.0 727.3,736.1 727.7,757.6 728.2,727.0 728.5,718.8 728.6,751.1 728.8,766.0 728.9,609.8 729.1,690.9 729.3,719.0 729.5,752.0 730.0,727.9 730.4,756.7 730.9,743.2 731.3,762.4 731.6,743.5 731.8,750.6 732.0,772.0 732.2,767.9 732.7,743.0 733.1,761.8 733.6,746.0 734.0,760.9 734.5,746.2 734.5,768.0 734.9,761.2 735.4,748.6 735.4,740.6 735.8,760.0 736.3,748.7 736.7,768.4 736.9,770.0 737.2,748.4 737.3,780.0 737.6,761.9 737.7,770.0 738.1,742.6 738.5,769.9 739.0,747.7 739.2,741.6 739.4,761.0 739.9,750.8 740.2,770.0 740.3,761.6 740.8,751.7 741.2,762.8 741.7,754.1 742.1,764.7 742.6,753.9 743.0,751.0 743.0,771.0 743.5,753.4 743.9,767.3 744.0,773.0 744.4,756.6 744.8,772.9 745.3,758.4 745.7,775.8 746.2,762.2 746.6,779.8 746.8,751.0 746.8,793.0 747.1,749.8 747.5,779.5 748.0,754.1 748.4,788.6 748.5,740.0 748.7,800.0 748.9,643.8 748.9,633.0 749.1,807.5 749.3,698.0 749.3,759.5 749.5,775.0 749.8,718.1 750.2,698.0 750.2,750.7 750.7,722.4 751.1,757.5 751.6,725.5 751.6,770.0 752.0,768.6 752.5,743.5 752.5,741.6 752.9,763.7 753.4,752.9 753.5,776.7 753.8,771.2 754.3,745.6 754.7,766.8 755.2,750.1 755.6,762.9 756.1,752.3 756.3,747.0 756.3,770.0 756.5,770.5 757.0,747.1 757.4,774.4 757.9,742.4 758.3,769.6 758.5,740.0 758.8,732.4 758.8,785.0 758.9,701.0 759.2,770.1 759.3,742.0 759.7,751.8 760.1,781.2 760.2,788.0 760.6,747.6 761.0,794.4 761.0,787.2 761.5,754.8 761.8,780.0 761.9,776.4 762.0,751.0 762.4,757.1 762.8,773.0 763.3,759.2 763.7,774.9 763.9,777.7 764.2,758.4 764.6,778.0 764.9,751.0 765.1,753.8 765.5,770.6 766.0,752.8 766.4,768.8 766.8,783.4 766.9,740.9 767.3,783.9 767.7,800.0 767.8,749.0 768.1,834.7 768.2,785.3 768.5,790.0 768.7,730.2 769.1,769.5 769.4,710.0 769.6,695.5 769.8,630.0 770.0,748.1 770.2,724.4 770.5,734.5 770.5,770.0 770.9,757.4 771.4,745.1 771.8,764.1 772.0,742.0 772.3,742.9 772.7,767.6 773.0,773.0 773.2,744.8 773.6,766.4 774.1,752.1 774.5,765.2 775.0,745.6 775.0,745.0 775.4,770.4 775.9,752.2 776.3,764.9 776.8,750.3 777.0,776.0 777.2,770.6 777.7,750.4 778.1,765.2 778.6,747.1 779.0,772.7 779.5,750.6 779.5,742.0 779.9,723.0 779.9,756.9 780.3,742.0 780.4,749.6 780.8,764.6 781.0,772.0 781.3,746.7 781.7,763.6 782.2,746.0 782.6,770.4 783.1,750.0 783.5,765.9 784.0,744.8 784.4,767.8 784.9,747.6 785.0,745.0 785.0,778.0 785.3,767.8 785.8,753.4 786.2,774.4 786.7,752.2 787.1,778.1 787.6,749.5 788.0,767.4 788.5,751.5 788.9,769.8 789.1,780.0 789.3,740.0 789.4,726.0 789.5,793.0 789.7,641.0 789.8,776.8 789.9,778.0 790.1,714.0 790.3,733.7 790.7,761.5 791.2,740.0 791.6,772.9 792.1,747.4 792.5,742.0 792.5,761.3 793.0,750.5 793.0,770.0 793.4,762.6 793.9,744.2 794.3,767.7 794.8,746.5 795.2,768.8 795.7,744.9 796.1,761.6 796.6,751.3 797.0,745.0 797.0,768.0 797.0,767.3 797.5,747.0 797.9,760.7 798.4,746.8 798.8,763.2 799.3,748.6 799.5,772.0 799.7,769.0 799.9,785.0 800.2,749.5 800.2,740.0 800.3,770.0 800.6,720.0 800.6,753.6 801.0,742.0 801.1,749.1 801.5,761.2 802.0,743.3 802.4,759.2 802.9,743.8 803.3,759.0 803.8,749.2 804.0,765.0 804.2,763.0 804.7,746.4 805.0,745.0 805.1,759.4 805.6,749.4 806.0,758.7 806.5,746.0 806.9,762.5 807.0,739.0 807.4,738.3 807.8,750.5 808.0,763.0 808.3,708.0 808.5,700.0 808.7,738.3 809.2,694.0 809.3,670.0 809.6,752.2 810.1,653.9 810.5,762.0 810.5,717.0 811.0,660.4 811.0,609.0 811.4,700.0 811.4,766.0 811.5,800.0 811.9,730.6 811.9,853.8 812.3,820.0 812.3,798.5 812.6,762.0 812.8,768.3 813.2,812.7 813.7,775.0 813.8,813.0 814.1,796.6 814.6,763.7 815.0,763.0 815.0,797.8 815.5,773.5 815.9,795.0 816.0,800.0 816.4,771.5 816.8,785.8 817.3,771.6 817.7,787.7 818.0,762.0 818.0,790.0 818.2,762.9 818.6,782.0 819.1,761.7 819.5,774.5 820.0,765.4 820.0,779.0 820.4,774.3 820.5,760.0 820.9,698.7 820.9,697.0 821.3,760.0 821.3,777.8 821.8,764.5 822.2,772.6 822.3,777.7 822.7,772.6 822.7,813.0 823.1,790.0 823.1,783.4 823.6,762.7 824.0,762.0 824.0,781.7 824.5,764.7 824.9,787.8 825.4,764.7 825.8,789.0 826.3,767.6 826.5,793.0 826.7,785.6 827.2,771.6 827.6,790.5 828.0,763.0 828.1,766.9 828.5,792.0 829.0,775.1 829.0,810.0 829.4,809.2 829.9,777.1 830.3,805.2 830.4,760.0 830.5,830.0 830.8,687.4 830.8,623.0 830.9,841.6 831.2,740.0 831.2,791.7 831.3,800.0 831.7,756.2 832.1,788.5 832.6,751.2 833.0,752.0 833.0,778.0 833.0,777.8 833.5,758.5 833.9,768.7 834.4,758.7 834.8,770.8 835.3,753.8 835.7,769.8 836.0,750.0 836.0,776.0 836.2,757.2 836.6,769.8 837.1,754.8 837.5,772.9 838.0,754.1 838.4,775.6 838.9,755.4 839.0,778.0 839.3,771.2 839.5,752.0 839.8,745.4 840.2,770.0 840.6,790.0 840.7,727.7 841.0,804.0 841.1,769.1 841.3,694.0 841.4,780.0 841.6,694.6 841.7,680.0 842.0,767.3 842.1,750.0 842.5,758.1 842.9,770.0 843.4,759.1 843.8,775.7 844.0,777.0 844.3,757.1 844.7,770.6 845.2,759.5 845.6,777.7 846.0,755.0 846.1,759.6 846.5,771.1 847.0,757.0 847.4,774.7 847.9,755.1 848.0,779.0 848.3,771.2 848.8,760.1 849.2,777.3 849.7,756.8 850.0,755.0 850.0,780.0 850.1,779.0 850.6,759.0 851.0,771.0 851.5,753.6 851.5,742.0 851.9,637.7 851.9,741.1 852.3,750.0 852.4,750.7 852.8,777.3 853.3,754.3 853.7,776.5 853.9,784.8 854.2,757.9 854.6,777.1 855.1,765.3 855.5,779.3 856.0,762.5 856.0,762.0 856.4,774.1 856.9,764.9 857.3,775.4 857.7,777.7 857.8,766.4 858.2,774.3 858.7,767.1 859.1,774.9 859.6,767.3 860.0,762.0 860.0,778.7 860.5,762.0 860.9,775.3 861.1,785.0 861.4,763.6 861.5,794.0 861.6,750.0 861.8,757.4 861.9,780.0 862.0,663.0 862.3,736.6 862.4,752.0 862.7,770.0 863.2,759.2 863.6,769.2 864.1,756.3 864.5,770.2 865.0,760.8 865.3,772.6 865.4,767.3 865.9,760.7 866.0,757.0 866.3,770.7 866.8,759.8 867.2,769.6 867.7,762.6 868.1,774.3 868.6,761.8 869.0,772.5 869.1,779.0 869.5,762.6 869.9,778.3 870.0,757.0 870.4,760.4 870.8,773.0 871.3,755.3 871.7,745.0 871.7,765.6 872.1,612.0 872.2,648.2 872.5,722.0 872.6,778.2 873.1,742.3 873.5,765.4 874.0,748.5 874.4,769.5 874.5,752.0 874.9,759.8 875.3,776.4 875.4,777.7 875.8,758.0 876.2,774.8 876.7,758.2 877.1,775.0 877.6,757.8 878.0,753.0 878.0,768.5 878.5,759.9 878.9,770.6 879.4,756.9 879.8,773.5 880.3,760.0 880.5,774.0 880.7,770.7 881.2,759.4 881.6,770.7 882.0,755.0 882.1,761.0 882.5,770.2 883.0,760.1 883.4,776.5 883.9,763.0 884.0,778.0 884.3,773.8 884.8,759.7 885.2,780.3 885.7,765.1 886.0,759.0 886.1,774.9 886.6,759.8 886.8,784.0 887.0,783.8 887.5,764.5 887.9,776.1 888.4,760.5 888.8,778.3 889.3,761.0 889.4,785.3 889.7,782.0 890.0,760.0 890.2,761.7 890.6,780.3 891.1,759.6 891.5,795.0 891.5,785.3 891.9,828.4 892.0,768.5 892.3,798.0 892.4,793.0 892.8,750.0 892.9,720.3 893.2,607.0 893.3,747.7 893.6,748.0 893.8,758.5 894.2,772.5 894.3,780.0 894.7,756.9 895.1,770.2 895.6,760.4 895.7,774.0 896.0,756.0 896.0,768.6 896.5,758.5 896.9,773.4 897.4,762.2 897.8,771.1 898.3,759.4 898.7,769.2 899.0,758.0 899.2,759.1 899.6,769.4 900.1,760.2 900.5,771.6 901.0,759.4 901.4,770.1 901.9,760.2 902.3,772.0 902.7,755.0 902.8,746.9 903.1,689.0 903.2,766.0 903.3,776.4 903.5,755.0 903.7,759.9 904.1,771.5 904.6,762.6 905.0,773.4 905.5,761.8 905.9,771.5 906.4,761.1 906.8,775.6 907.0,760.0 907.3,763.8 907.7,772.2 908.2,763.8 908.6,772.2 909.1,765.3 909.5,773.9 910.0,765.5 910.4,774.2 910.9,763.8 910.9,779.0 911.0,760.0 911.3,772.0 911.8,759.6 912.2,770.7 912.6,752.0 912.7,728.2 913.0,629.8 913.1,767.7 913.4,752.0 913.6,757.7 914.0,770.7 914.5,759.0 914.9,773.0 915.4,755.9 915.8,772.2 916.0,780.0 916.3,758.4 916.7,780.0 917.0,758.0 917.2,760.6 917.6,777.9 918.1,764.0 918.5,779.8 919.0,762.2 919.4,779.5 919.8,780.0 919.9,758.3 920.3,773.1 920.8,759.5 921.2,780.4 921.7,764.4 922.0,757.0 922.0,782.0 922.1,775.9 922.6,760.5 922.9,788.6 923.0,777.9 923.5,759.2 923.8,782.0 923.9,774.8 924.4,760.4 924.8,773.8 925.3,763.3 925.7,779.5 926.2,765.2 926.2,780.0 926.6,773.9 927.0,760.0 927.1,764.0 927.5,774.2 928.0,766.2 928.4,773.6 928.9,766.2 929.3,778.8 929.8,763.9 930.2,778.2 930.7,766.7 931.0,762.0 931.1,777.0 931.2,779.0 931.6,764.2 932.0,774.4 932.5,756.4 932.9,771.9 933.4,748.1 933.4,746.0 933.8,642.0 933.8,755.3 934.2,752.0 934.3,757.5 934.5,782.0 934.7,781.6 935.2,764.5 935.5,787.8 935.6,786.8 936.1,762.8 936.5,782.0 936.5,776.3 937.0,763.8 937.0,762.0 937.4,776.3 937.9,763.0 938.3,778.6 938.8,768.3 939.2,780.4 939.7,768.6 940.0,765.0 940.1,782.7 940.1,777.0 940.6,766.6 941.0,776.9 941.5,765.3 941.9,777.7 942.4,766.2 942.8,784.4 943.3,766.1 943.5,762.0 943.5,785.0 943.7,789.0 943.9,683.8 943.9,815.2 944.2,754.0 944.3,760.0 944.3,785.0 944.6,776.3 945.1,767.3 945.5,776.3 946.0,763.9 946.4,777.6 946.9,764.6 947.0,760.0 947.3,781.7 947.7,782.7 947.8,766.7 948.2,776.2 948.7,763.9 949.1,776.2 949.6,767.9 950.0,778.4 950.2,785.3 950.5,768.1 950.9,779.4 951.0,761.0 951.4,767.4 951.8,782.0 952.3,763.2 952.7,778.8 953.2,761.3 953.6,755.0 953.6,790.0 953.6,785.5 954.0,673.0 954.0,855.5 954.1,735.8 954.4,757.0 954.4,790.0 954.5,788.6 955.0,766.4 955.4,778.5 955.9,767.8 956.3,781.5 956.8,763.0 957.0,762.0 957.2,781.6 957.7,767.2 957.9,782.7 958.1,776.6 958.6,768.8 959.0,778.9 959.5,766.9 959.9,776.8 960.4,766.8 960.8,777.1 961.3,765.2 961.7,765.0 961.7,778.7 962.2,768.1 962.6,779.4 962.9,780.2 963.1,766.9 963.5,760.0 963.5,775.3 963.9,714.0 964.0,738.4 964.3,760.0 964.4,775.5 964.9,767.4 965.3,781.0 965.8,768.8 966.2,780.1 966.7,764.2 966.7,785.3 967.0,764.0 967.1,778.5 967.6,770.3 968.0,781.8 968.5,769.3 968.8,786.0 968.9,783.2 969.4,767.8 969.8,791.7 969.8,783.3 970.3,772.2 970.7,780.6 970.8,786.0 971.0,767.0 971.2,772.3 971.6,783.8 972.1,767.3 972.5,781.0 973.0,769.8 973.1,783.0 973.4,780.4 973.9,764.8 974.3,774.8 974.5,762.0 974.8,718.6 974.9,694.0 974.9,777.0 975.2,771.3 975.3,760.0 975.7,765.3 976.1,773.2 976.6,766.3 977.0,774.4 977.5,766.8 977.6,762.0 977.9,780.0 978.4,765.7 978.8,782.6 979.0,784.5 979.3,766.6 979.7,777.0 980.0,765.0 980.2,767.9 980.6,775.9 981.1,765.9 981.5,774.1 981.7,776.4 982.0,767.8 982.4,776.5 982.9,764.3 983.0,764.0 983.3,776.3 983.8,763.2 984.0,784.5 984.2,776.2 984.6,760.0 984.7,761.4 985.0,734.0 985.1,770.6 985.4,758.0 985.6,761.2 986.0,780.7 986.5,763.0 986.9,774.9 987.0,762.0 987.1,779.8 987.4,763.8 987.8,775.9 988.3,769.1 988.7,780.9 989.0,766.0 989.2,768.5 989.6,780.3 990.1,768.5 990.5,783.8 990.5,783.6 991.0,769.8 991.4,783.0 991.9,768.5 992.3,783.8 992.6,766.0 992.8,769.8 993.2,782.9 993.3,785.9 993.7,767.1 994.1,780.7 994.6,768.2 994.6,760.0 994.6,790.0 995.0,718.3 995.0,808.7 995.0,790.6 995.4,749.0 995.4,785.0 995.5,759.8 995.9,780.3 996.4,761.2 996.8,769.6 997.3,762.9 997.3,773.7 997.7,773.8 998.0,762.0 998.2,765.3 998.6,771.4 999.1,767.0 999.5,772.3 1000.0,765.8 1000.4,775.7 1000.7,778.4 1000.9,766.7 1001.3,776.5 1001.8,769.4 1002.0,766.0 1002.2,775.5 1002.7,767.8 1002.8,777.7 1003.1,777.6 1003.6,764.3 1004.0,762.0 1004.0,781.2 1004.5,767.0 1004.9,758.0 1004.9,783.8 1005.2,786.6 1005.4,761.3 1005.8,762.0 1005.8,785.2 1006.3,769.0 1006.7,777.9 1007.2,769.1 1007.6,776.8 1008.1,764.9 1008.2,783.2 1008.5,781.2 1008.9,764.0 1009.0,767.0 1009.4,781.0 1009.9,767.1 1010.3,777.0 1010.8,769.6 1011.2,776.2 1011.6,781.8 1011.7,766.5 1012.1,775.7 1012.6,768.6 1013.0,765.0 1013.0,775.3 1013.5,768.3 1013.6,777.7 1013.9,774.3 1014.4,767.3 1014.8,779.6 1015.3,766.6 1015.5,785.0 1015.7,784.1 1015.9,760.0 1015.9,798.8 1016.2,761.3 1016.3,782.0 1016.6,777.2 1017.0,763.0 1017.1,764.3 1017.5,777.4 1017.7,780.4 1018.0,768.6 1018.4,777.2 1018.9,767.9 1019.0,783.0 1019.3,782.5 1019.7,764.0 1019.8,769.7 1019.9,788.0 1020.2,782.4 1020.7,766.8 1020.8,782.0 1021.1,775.5 1021.6,763.4 1022.0,773.7 1022.4,779.0 1022.5,762.9 1022.9,773.4 1023.0,761.0 1023.4,766.5 1023.8,773.7 1024.3,763.0 1024.7,779.6 1025.2,766.7 1025.6,775.7 1026.0,761.0 1026.1,765.0 1026.5,780.4 1026.5,778.5 1027.0,767.7 1027.4,777.6 1027.9,768.3 1028.3,781.8 1028.8,770.0 1029.0,784.5 1029.2,765.5 1029.2,783.3 1029.7,770.0 1030.1,776.5 1030.6,767.4 1031.0,776.1 1031.5,769.2 1031.9,777.0 1031.9,775.0 1032.4,768.9 1032.8,775.6 1033.3,767.0 1033.3,765.5 1033.7,775.3 1034.2,766.2 1034.6,772.9 1034.7,776.4 1035.1,766.3 1035.2,763.0 1035.5,768.3 1036.2,702.0 1036.2,778.8 1036.4,702.0 1036.5,778.0" fill="none" stroke="#0080ff" stroke-width="2" stroke-linejoin="bevel" shape-rendering="crispEdges"/>
<g stroke="#000" shape-rendering="crispEdges"><line x1="175.0" y1="957.5" x2="188" y2="957.5" stroke-width="1"/><line x1="175.0" y1="926.5" x2="188" y2="926.5" stroke-width="1"/><line x1="175.0" y1="896.5" x2="188" y2="896.5" stroke-width="1"/><line x1="175.0" y1="865" x2="197" y2="865" stroke-width="4"/><line x1="175.0" y1="835.5" x2="188" y2="835.5" stroke-width="1"/><line x1="175.0" y1="805.5" x2="188" y2="805.5" stroke-width="1"/><line x1="175.0" y1="774.5" x2="188" y2="774.5" stroke-width="1"/><line x1="175.0" y1="743" x2="197" y2="743" stroke-width="4"/><line x1="175.0" y1="713.5" x2="188" y2="713.5" stroke-width="1"/><line x1="175.0" y1="683.5" x2="188" y2="683.5" stroke-width="1"/><line x1="175.0" y1="653.5" x2="188" y2="653.5" stroke-width="1"/><line x1="175.0" y1="622" x2="197" y2="622" stroke-width="4"/><line x1="175.0" y1="592.5" x2="188" y2="592.5" stroke-width="1"/><line x1="175.0" y1="562.5" x2="188" y2="562.5" stroke-width="1"/><line x1="175.0" y1="531.5" x2="188" y2="531.5" stroke-width="1"/><line x1="175.0" y1="500" x2="197" y2="500" stroke-width="4"/><line x1="175.0" y1="470.5" x2="188" y2="470.5" stroke-width="1"/><line x1="175.0" y1="440.5" x2="188" y2="440.5" stroke-width="1"/><line x1="175.0" y1="410.5" x2="188" y2="410.5" stroke-width="1"/><line x1="175.0" y1="379" x2="197" y2="379" stroke-width="4"/><line x1="175.0" y1="349.5" x2="188" y2="349.5" stroke-width="1"/><line x1="175.0" y1="318.5" x2="188" y2="318.5" stroke-width="1"/><line x1="175.0" y1="288.5" x2="188" y2="288.5" stroke-width="1"/><line x1="175.0" y1="257" x2="197" y2="257" stroke-width="4"/><line x1="175.0" y1="227.5" x2="188" y2="227.5" stroke-width="1"/><line x1="175.0" y1="197.5" x2="188" y2="197.5" stroke-width="1"/><line x1="175.0" y1="166.5" x2="188" y2="166.5" stroke-width="1"/><line x1="236.5" y1="987.0" x2="236.5" y2="974" stroke-width="1"/><line x1="298.5" y1="987.0" x2="298.5" y2="974" stroke-width="1"/><line x1="359.5" y1="987.0" x2="359.5" y2="974" stroke-width="1"/><line x1="420" y1="987.0" x2="420" y2="965" stroke-width="4"/><line x1="482.5" y1="987.0" x2="482.5" y2="974" stroke-width="1"/><line x1="544.5" y1="987.0" x2="544.5" y2="974" stroke-width="1"/><line x1="605.5" y1="987.0" x2="605.5" y2="974" stroke-width="1"/><line x1="667" y1="987.0" x2="667" y2="965" stroke-width="4"/><line x1="728.5" y1="987.0" x2="728.5" y2="974" stroke-width="1"/><line x1="790.5" y1="987.0" x2="790.5" y2="974" stroke-width="1"/><line x1="851.5" y1="987.0" x2="851.5" y2="974" stroke-width="1"/><line x1="913" y1="987.0" x2="913" y2="965" stroke-width="4"/><line x1="974.5" y1="987.0" x2="974.5" y2="974" stroke-width="1"/><line x1="1036.5" y1="987.0" x2="1036.5" y2="974" stroke-width="1"/><line x1="1097.5" y1="987.0" x2="1097.5" y2="974" stroke-width="1"/></g>
<g stroke="#000" stroke-width="4" shape-rendering="crispEdges"><line x1="175.0" y1="136.0" x2="1159.0" y2="136.0"/><line x1="175.0" y1="987.0" x2="1159.0" y2="987.0"/><line x1="175.0" y1="136.0" x2="175.0" y2="987.0"/><line x1="1159.0" y1="136.0" x2="1159.0" y2="987.0"/></g>
<g font-family="'Liberation Serif', 'Times New Roman', serif" font-size="33.5" fill="#000"><text x="163" y="998.6" text-anchor="end">-20</text><text x="163" y="877.0" text-anchor="end">0</text><text x="163" y="755.5" text-anchor="end">20</text><text x="163" y="633.9" text-anchor="end">40</text><text x="163" y="512.3" text-anchor="end">60</text><text x="163" y="390.7" text-anchor="end">80</text><text x="163" y="269.2" text-anchor="end">100</text><text x="163" y="147.6" text-anchor="end">120</text><text x="175.0" y="1020.8" text-anchor="middle">-2000</text><text x="421.0" y="1020.8" text-anchor="middle">0</text><text x="667.0" y="1020.8" text-anchor="middle">2000</text><text x="913.0" y="1020.8" text-anchor="middle">4000</text><text x="1159.0" y="1020.8" text-anchor="middle">6000</text></g>
<g font-family="'Liberation Serif', 'Times New Roman', serif" font-weight="bold" fill="#000"><text x="667.2" y="1075.6" font-size="32.9" text-anchor="middle">Frequency [Hz]</text><text transform="translate(64.2,561.5) rotate(-90)" font-size="33.5" text-anchor="middle">Sound Pressure Level [dB]</text><text x="1002.6" y="178.7" font-size="22.05">Pressure</text></g>
<line x1="886" y1="171.5" x2="985.5" y2="171.5" stroke="#0080ff" stroke-width="2"/>
<rect x="0.5" y="0.5" width="1242" height="1104" fill="none" stroke="#000" stroke-width="1"/>
</svg>
</body></html>
